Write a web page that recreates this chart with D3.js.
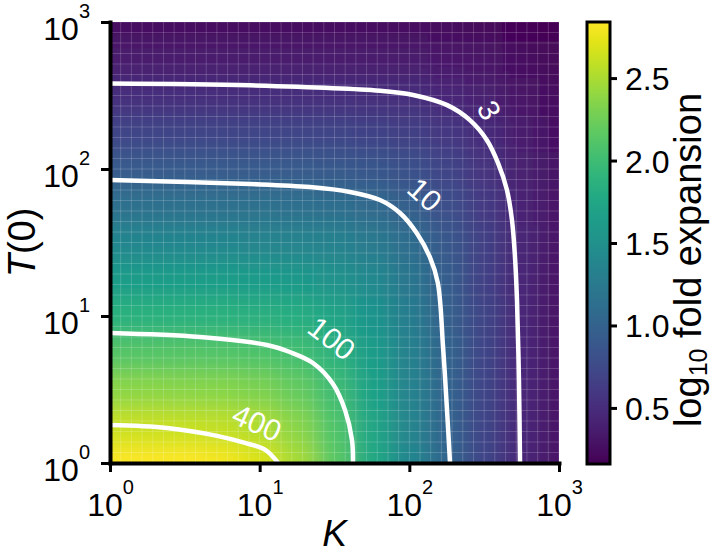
<!DOCTYPE html>
<html>
<head>
<meta charset="utf-8">
<script src="https://cdn.jsdelivr.net/npm/d3@7"></script>
<style>
  body { margin: 0; background: #fff; }
  text { font-family: "Liberation Sans", Arial, sans-serif; }
</style>
</head>
<body>
<div id="chart"></div>
<script>
// grid nodes, quarter decades
const kValues  = [1, 1.778, 3.162, 5.623, 10, 17.78, 31.62, 56.23, 100, 177.8, 316.2, 562.3, 1000];
const t0Values = [1, 1.778, 3.162, 5.623, 10, 17.78, 31.62, 56.23, 100, 177.8, 316.2, 562.3, 1000];

// log10 fold expansion, one row per T(0) (from 1 up to 1000), one column per K
const foldLog = [
  [2.868, 2.863, 2.849, 2.808, 2.703, 2.487, 2.158, 1.773, 1.385, 1.021, 0.714, 0.458, 0.316],
  [2.619, 2.617, 2.609, 2.585, 2.519, 2.366, 2.098, 1.747, 1.375, 1.017, 0.713, 0.457, 0.316],
  [2.371, 2.369, 2.365, 2.351, 2.311, 2.211, 2.008, 1.706, 1.358, 1.010, 0.710, 0.456, 0.316],
  [2.122, 2.121, 2.119, 2.111, 2.088, 2.026, 1.884, 1.641, 1.329, 0.998, 0.705, 0.454, 0.315],
  [1.875, 1.874, 1.873, 1.869, 1.855, 1.818, 1.726, 1.545, 1.282, 0.978, 0.697, 0.451, 0.313],
  [1.630, 1.629, 1.629, 1.626, 1.619, 1.597, 1.540, 1.417, 1.210, 0.945, 0.683, 0.446, 0.311],
  [1.387, 1.387, 1.387, 1.385, 1.381, 1.369, 1.336, 1.257, 1.109, 0.893, 0.659, 0.437, 0.307],
  [1.151, 1.151, 1.151, 1.150, 1.148, 1.141, 1.122, 1.075, 0.978, 0.817, 0.622, 0.422, 0.299],
  [0.924, 0.924, 0.924, 0.924, 0.923, 0.919, 0.909, 0.882, 0.823, 0.714, 0.566, 0.397, 0.287],
  [0.713, 0.713, 0.713, 0.713, 0.712, 0.710, 0.705, 0.691, 0.658, 0.592, 0.490, 0.360, 0.268],
  [0.524, 0.524, 0.524, 0.524, 0.523, 0.522, 0.520, 0.513, 0.496, 0.460, 0.399, 0.310, 0.239],
  [0.365, 0.365, 0.365, 0.365, 0.365, 0.364, 0.363, 0.360, 0.352, 0.334, 0.302, 0.249, 0.202],
  [0.241, 0.241, 0.241, 0.241, 0.240, 0.240, 0.240, 0.238, 0.235, 0.227, 0.212, 0.185, 0.158]
];

// contour lines as [K, T(0)] points
const contour3 = [[1, 382], [8.6, 371], [63.7, 341], [106, 319], [179, 272], [254, 215], [330, 157],
  [391, 110], [449, 71.9], [485, 45], [508, 25.2], [524, 12.8], [540, 3.67], [549, 1]];
const contour10 = [[1, 84.2], [8.62, 79.1], [21.7, 75.4], [40.1, 69.8], [63.7, 61.5], [86.6, 50.2],
  [112, 36.7], [137, 25.2], [155, 16.8], [168, 6.15], [179, 2.19], [187, 1]];
const contour100 = [[1, 7.66], [3.99, 7.2], [11.2, 6.35], [15.9, 5.69], [22.7, 4.79], [30.9, 3.45],
  [37.2, 2.29], [41.4, 1.43], [42, 1]];
const contour400 = [[1, 1.81], [2.4, 1.73], [5.19, 1.53], [7.98, 1.37], [10.9, 1.23], [13.3, 1]];

const contourLevels = [3, 10, 100, 400];
// where the level labels sit (data coords) and their tilt
const labelK     = [343, 127, 30.4, 9.6];
const labelT0    = [252, 67.1, 7.08, 1.89];
const labelAngle = [62, 42, 38, 24];

const axisTicks = [1, 10, 100, 1000];
const cbTicks = [0.5, 1.0, 1.5, 2.0, 2.5];
const cbRange = [0.16, 2.84];

const width = 713, height = 555;
const plot = { left: 110, right: 559, top: 22, bottom: 463 };

const svg = d3.select("#chart").append("svg")
  .attr("width", width)
  .attr("height", height);

const x = d3.scaleLog().domain([1, 1000]).range([plot.left, plot.right]);
const y = d3.scaleLog().domain([1, 1000]).range([plot.bottom, plot.top]);
const color = d3.scaleSequential(d3.interpolateViridis).domain(cbRange).clamp(true);

const defs = svg.append("defs");
defs.append("clipPath").attr("id", "plotClip")
  .append("rect")
  .attr("x", plot.left).attr("y", plot.top)
  .attr("width", plot.right - plot.left).attr("height", plot.bottom - plot.top);
defs.append("filter").attr("id", "soft")
  .attr("x", "-5%").attr("y", "-5%").attr("width", "110%").attr("height", "110%")
  .append("feGaussianBlur").attr("stdDeviation", 11);

// cell edges half way (in log) between nodes; outer cells run past the frame
const pad = 45;
function cellSpan(vals, scale, i, flip) {
  const n = vals.length;
  let a = i === 0 ? scale(vals[0]) : scale(Math.sqrt(vals[i - 1] * vals[i]));
  let b = i === n - 1 ? scale(vals[n - 1]) : scale(Math.sqrt(vals[i] * vals[i + 1]));
  const dir = flip ? -1 : 1;
  if (i === 0) a -= dir * pad;
  if (i === n - 1) b += dir * pad;
  return [Math.min(a, b), Math.max(a, b)];
}

const cells = [];
foldLog.forEach((row, j) => row.forEach((z, i) => cells.push({ i, j, z })));

const heat = svg.append("g").attr("clip-path", "url(#plotClip)")
  .append("g").attr("filter", "url(#soft)");
heat.selectAll("rect")
  .data(cells)
  .join("rect")
  .attr("x", d => cellSpan(kValues, x, d.i, false)[0])
  .attr("y", d => cellSpan(t0Values, y, d.j, true)[0])
  .attr("width", d => { const s = cellSpan(kValues, x, d.i, false); return s[1] - s[0] + 0.6; })
  .attr("height", d => { const s = cellSpan(t0Values, y, d.j, true); return s[1] - s[0] + 0.6; })
  .attr("fill", d => color(d.z));

// faint mesh lines like the original pcolormesh
const mesh = d3.range(43).map(i => Math.pow(10, i * 3 / 42));
const meshG = svg.append("g").attr("clip-path", "url(#plotClip)")
  .attr("stroke", "#fff").attr("stroke-opacity", 0.18).attr("stroke-width", 1);
meshG.selectAll("line.v").data(mesh).join("line").attr("class", "v")
  .attr("x1", d => x(d)).attr("x2", d => x(d)).attr("y1", plot.top).attr("y2", plot.bottom);
meshG.selectAll("line.h").data(mesh).join("line").attr("class", "h")
  .attr("y1", d => y(d)).attr("y2", d => y(d)).attr("x1", plot.left).attr("x2", plot.right);

// contour lines
const line = d3.line()
  .x(d => x(d[0]))
  .y(d => y(d[1]))
  .curve(d3.curveCatmullRom.alpha(0.5));

svg.append("g").attr("clip-path", "url(#plotClip)")
  .selectAll("path")
  .data([contour3, contour10, contour100, contour400])
  .join("path")
  .attr("d", line)
  .attr("fill", "none")
  .attr("stroke", "#fff")
  .attr("stroke-width", 4.5);

svg.append("g").selectAll("text")
  .data(contourLevels)
  .join("text")
  .attr("transform", (d, i) => `translate(${x(labelK[i])},${y(labelT0[i])}) rotate(${labelAngle[i]})`)
  .attr("text-anchor", "middle")
  .attr("dy", "0.36em")
  .attr("fill", "#fff")
  .attr("font-size", 30)
  .text(d => d);

// axes
function powerLabels(sel) {
  sel.each(function(d) {
    const t = d3.select(this).text(null);
    t.append("tspan").text("10");
    t.append("tspan").attr("dy", -22).attr("font-size", 20).text(Math.round(Math.log10(d)));
  });
}

const xAxis = svg.append("g")
  .attr("transform", `translate(0,${plot.bottom})`)
  .call(d3.axisBottom(x).tickValues(axisTicks).tickSize(9).tickSizeOuter(0));
xAxis.selectAll(".tick line").attr("stroke-width", 3);
xAxis.selectAll(".tick text")
  .attr("y", 53).attr("dy", 0)
  .attr("font-size", 32).attr("fill", "#000")
  .call(powerLabels);

const yAxis = svg.append("g")
  .attr("transform", `translate(${plot.left},0)`)
  .call(d3.axisLeft(y).tickValues(axisTicks).tickSize(9).tickSizeOuter(0).tickPadding(11));
yAxis.selectAll(".tick line").attr("stroke-width", 3);
yAxis.selectAll(".tick text")
  .attr("dy", 17)
  .attr("font-size", 32).attr("fill", "#000")
  .call(powerLabels);

[xAxis, yAxis].forEach(a => a.select(".domain").attr("stroke-width", 4).attr("stroke-linecap", "square"));

svg.append("text")
  .attr("x", (plot.left + plot.right) / 2).attr("y", 546)
  .attr("text-anchor", "middle")
  .attr("font-size", 37)
  .attr("font-style", "italic")
  .text("K");

const yLabel = svg.append("text")
  .attr("transform", `translate(35,${(plot.top + plot.bottom) / 2}) rotate(-90)`)
  .attr("text-anchor", "middle")
  .attr("font-size", 38);
yLabel.append("tspan").attr("font-style", "italic").text("T");
yLabel.append("tspan").text("(0)");

// colorbar
const cb = { left: 587, right: 610, top: 22, bottom: 464 };
const cbScale = d3.scaleLinear().domain(cbRange).range([cb.bottom, cb.top]);

const grad = defs.append("linearGradient")
  .attr("id", "cbGrad")
  .attr("x1", 0).attr("y1", 1).attr("x2", 0).attr("y2", 0);
grad.selectAll("stop")
  .data(d3.range(0, 1.0001, 0.05))
  .join("stop")
  .attr("offset", d => d)
  .attr("stop-color", d => d3.interpolateViridis(d));

svg.append("rect")
  .attr("x", cb.left).attr("y", cb.top)
  .attr("width", cb.right - cb.left).attr("height", cb.bottom - cb.top)
  .attr("fill", "url(#cbGrad)")
  .attr("stroke", "#000")
  .attr("stroke-width", 3);

const cbAxis = svg.append("g")
  .attr("transform", `translate(${cb.right},0)`)
  .call(d3.axisRight(cbScale).tickValues(cbTicks).tickFormat(d3.format(".1f")).tickSize(7).tickPadding(8));
cbAxis.select(".domain").remove();
cbAxis.selectAll(".tick line").attr("stroke-width", 3);
cbAxis.selectAll(".tick text").attr("font-size", 32).attr("fill", "#000").attr("dy", "0.36em");

const cbLabel = svg.append("text")
  .attr("transform", `translate(701,${(cb.top + cb.bottom) / 2 + 17}) rotate(-90)`)
  .attr("text-anchor", "middle")
  .attr("font-size", 38);
cbLabel.append("tspan").text("log");
cbLabel.append("tspan").attr("dy", 6).attr("font-size", 25).text("10");
cbLabel.append("tspan").attr("dy", -6).text(" fold expansion");
</script>
</body>
</html>
